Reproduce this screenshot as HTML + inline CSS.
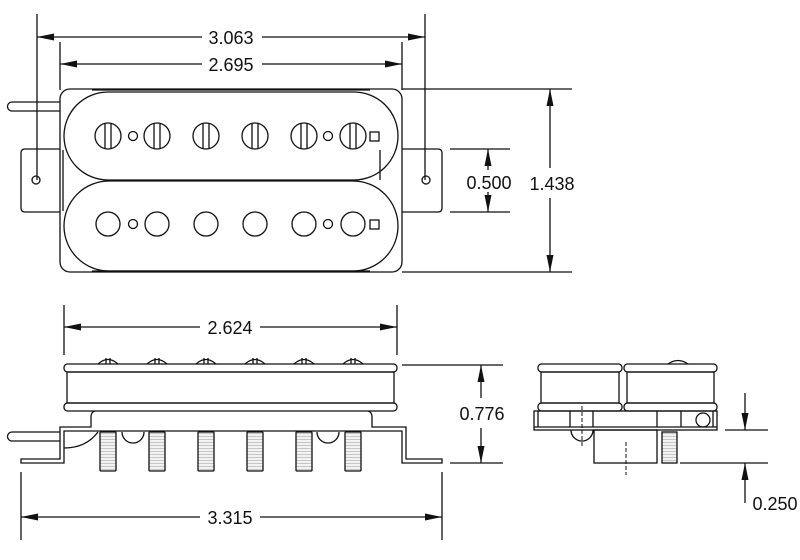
<!DOCTYPE html>
<html><head><style>
html,body{margin:0;padding:0;background:#fff;}
svg{display:block;}
text{font-family:"Liberation Sans",sans-serif;font-size:18px;fill:#111;}
</style></head><body>
<svg width="800" height="560" viewBox="0 0 800 560" xmlns="http://www.w3.org/2000/svg">
<defs>
<pattern id="h" width="4" height="3" patternUnits="userSpaceOnUse"><rect width="4" height="3" fill="#f2f2f2"/><line x1="0" y1="1.5" x2="4" y2="1.5" stroke="#bbb" stroke-width="0.8"/></pattern>
</defs>
<g fill="none" stroke="#111" stroke-width="1.3">
<!-- TOP VIEW -->
<!-- extension lines -->
<line x1="37" y1="14" x2="37" y2="180"/>
<line x1="425" y1="14" x2="425" y2="180"/>
<line x1="60" y1="42" x2="60" y2="90"/>
<line x1="402" y1="42" x2="402" y2="90"/>
<line x1="402" y1="89" x2="572" y2="89"/>
<line x1="402" y1="272" x2="572" y2="272"/>
<line x1="450" y1="149" x2="510" y2="149"/>
<line x1="450" y1="212" x2="510" y2="212"/>
<!-- dim lines -->
<line x1="37" y1="37" x2="202" y2="37"/><line x1="262" y1="37" x2="425" y2="37"/>
<line x1="60" y1="64" x2="202" y2="64"/><line x1="262" y1="64" x2="402" y2="64"/>
<line x1="550" y1="89" x2="550" y2="168"/><line x1="550" y1="198" x2="550" y2="272"/>
<line x1="488" y1="149" x2="488" y2="170"/><line x1="488" y1="192" x2="488" y2="212"/>
<!-- base plate -->
<rect x="60" y="89" width="342" height="183" rx="10"/>
<line x1="92" y1="90" x2="370" y2="90"/>
<line x1="92" y1="271" x2="370" y2="271"/>
<!-- ears -->
<path d="M60 149 H25 Q21 149 21 153 V208 Q21 212 25 212 H60"/>
<path d="M402 149 H438 Q442 149 442 153 V208 Q442 212 438 212 H402"/>
<line x1="63" y1="150" x2="63" y2="211"/>
<line x1="380" y1="150" x2="380" y2="180"/>
<circle cx="36" cy="180" r="4"/>
<circle cx="426" cy="180" r="4"/>
<!-- wire -->
<path d="M60 102 H12 A4.5 4.5 0 0 0 12 111 H60"/>
<!-- coils -->
<rect x="64" y="92" width="334" height="88" rx="44"/>
<rect x="64" y="181" width="334" height="90" rx="45"/>
<!-- top row screws -->
<g>
<circle cx="108" cy="136" r="13"/><line x1="105" y1="124" x2="105" y2="148"/><line x1="111" y1="124" x2="111" y2="148"/>
<circle cx="157" cy="136" r="13"/><line x1="154" y1="124" x2="154" y2="148"/><line x1="160" y1="124" x2="160" y2="148"/>
<circle cx="206" cy="136" r="13"/><line x1="203" y1="124" x2="203" y2="148"/><line x1="209" y1="124" x2="209" y2="148"/>
<circle cx="255" cy="136" r="13"/><line x1="252" y1="124" x2="252" y2="148"/><line x1="258" y1="124" x2="258" y2="148"/>
<circle cx="304" cy="136" r="13"/><line x1="301" y1="124" x2="301" y2="148"/><line x1="307" y1="124" x2="307" y2="148"/>
<circle cx="353" cy="136" r="13"/><line x1="350" y1="124" x2="350" y2="148"/><line x1="356" y1="124" x2="356" y2="148"/>
<circle cx="133" cy="136" r="4.5"/><circle cx="328" cy="136" r="4.5"/>
<rect x="370" y="132" width="9" height="9"/>
</g>
<g>
<circle cx="108" cy="224" r="12"/><circle cx="157" cy="224" r="12"/><circle cx="206" cy="224" r="12"/>
<circle cx="255" cy="224" r="12"/><circle cx="304" cy="224" r="12"/><circle cx="353" cy="224" r="12"/>
<circle cx="133" cy="224" r="4.5"/><circle cx="328" cy="224" r="4.5"/>
<rect x="370" y="220" width="9" height="9"/>
</g>

<!-- SIDE VIEW -->
<line x1="64" y1="305" x2="64" y2="355"/>
<line x1="397" y1="305" x2="397" y2="355"/>
<line x1="64" y1="327" x2="200" y2="327"/><line x1="260" y1="327" x2="397" y2="327"/>
<line x1="402" y1="365" x2="503" y2="365"/>
<line x1="450" y1="463" x2="503" y2="463"/>
<line x1="481" y1="365" x2="481" y2="398"/><line x1="481" y1="428" x2="481" y2="463"/>
<line x1="21" y1="472" x2="21" y2="540"/>
<line x1="442" y1="472" x2="442" y2="540"/>
<line x1="21" y1="517" x2="200" y2="517"/><line x1="260" y1="517" x2="442" y2="517"/>
<!-- screw tops -->
<g>
<path d="M98 364 Q108 355 118 364"/><line x1="106" y1="358" x2="106" y2="364"/><line x1="110" y1="358" x2="110" y2="364"/>
<path d="M147 364 Q157 355 167 364"/><line x1="155" y1="358" x2="155" y2="364"/><line x1="159" y1="358" x2="159" y2="364"/>
<path d="M196 364 Q206 355 216 364"/><line x1="204" y1="358" x2="204" y2="364"/><line x1="208" y1="358" x2="208" y2="364"/>
<path d="M245 364 Q255 355 265 364"/><line x1="253" y1="358" x2="253" y2="364"/><line x1="257" y1="358" x2="257" y2="364"/>
<path d="M294 364 Q304 355 314 364"/><line x1="302" y1="358" x2="302" y2="364"/><line x1="306" y1="358" x2="306" y2="364"/>
<path d="M343 364 Q353 355 363 364"/><line x1="351" y1="358" x2="351" y2="364"/><line x1="355" y1="358" x2="355" y2="364"/>
</g>
<!-- cover -->
<rect x="64" y="364" width="333" height="8" rx="3.5" fill="#fff"/>
<rect x="67" y="372" width="327" height="31"/>
<rect x="64" y="403" width="333" height="8" rx="3.5"/>
<!-- base plate -->
<path d="M95 411 Q91 412 91 417 V427 H60 V459 H21 V463 H64 V431 H402 V463 H442 V459 H406 V427 H372 V417 Q372 412 368 411"/>
<!-- wire -->
<path d="M60 432 H12 A4.5 4.5 0 0 0 12 441 H60"/>
<path d="M64 448 Q86 448 98 432"/>
<!-- screw heads under -->
<path d="M122 432 A11 11 0 0 0 144 432"/>
<path d="M317 432 A11 11 0 0 0 339 432"/>
<!-- poles -->
<g fill="url(#h)">
<rect x="100" y="432" width="16" height="39" rx="1"/>
<rect x="149" y="432" width="16" height="39" rx="1"/>
<rect x="198" y="432" width="16" height="39" rx="1"/>
<rect x="247" y="432" width="16" height="39" rx="1"/>
<rect x="296" y="432" width="16" height="39" rx="1"/>
<rect x="345" y="432" width="16" height="39" rx="1"/>
</g>

<!-- END VIEW -->
<path d="M668 364 Q678 357 688 364"/>
<rect x="538" y="364" width="84" height="8" rx="3.5"/>
<rect x="541" y="372" width="78" height="31"/>
<rect x="538" y="403" width="84" height="8" rx="3.5"/>
<rect x="624" y="364" width="93" height="8" rx="3.5"/>
<rect x="627" y="372" width="87" height="31"/>
<rect x="624" y="403" width="93" height="8" rx="3.5"/>
<rect x="534" y="411" width="183" height="19"/>
<line x1="534" y1="427" x2="717" y2="427"/>
<line x1="538" y1="411" x2="538" y2="427"/>
<line x1="570" y1="411" x2="570" y2="427"/>
<line x1="593" y1="411" x2="593" y2="427"/>
<line x1="657" y1="411" x2="657" y2="427"/>
<line x1="681" y1="411" x2="681" y2="427"/>
<line x1="713" y1="411" x2="713" y2="427"/>
<circle cx="703" cy="420" r="7"/>
<path d="M571 430 A11 11 0 0 0 593 430"/>
<rect x="594" y="430" width="63" height="33"/>
<rect x="662" y="432" width="15" height="31" fill="url(#h)"/>
<line x1="582" y1="406" x2="582" y2="448" stroke-dasharray="4 2" stroke-width="1"/>
<line x1="626" y1="442" x2="626" y2="475" stroke-dasharray="4 2" stroke-width="1"/>
<line x1="725" y1="430" x2="768" y2="430"/>
<line x1="680" y1="463" x2="768" y2="463"/>
<line x1="745" y1="393" x2="745" y2="430"/>
<line x1="745" y1="463" x2="745" y2="503"/>
</g>
<!-- arrowheads -->
<g fill="#111">
<polygon points="37,37 54,33.5 54,40.5"/><polygon points="425,37 408,33.5 408,40.5"/>
<polygon points="60,64 77,60.5 77,67.5"/><polygon points="402,64 385,60.5 385,67.5"/>
<polygon points="550,89 546.5,106 553.5,106"/><polygon points="550,272 546.5,255 553.5,255"/>
<polygon points="488,149 484.5,166 491.5,166"/><polygon points="488,212 484.5,195 491.5,195"/>
<polygon points="64,327 81,323.5 81,330.5"/><polygon points="397,327 380,323.5 380,330.5"/>
<polygon points="481,365 477.5,382 484.5,382"/><polygon points="481,463 477.5,446 484.5,446"/>
<polygon points="21,517 38,513.5 38,520.5"/><polygon points="442,517 425,513.5 425,520.5"/>
<polygon points="745,430 741.5,413 748.5,413"/><polygon points="745,463 741.5,480 748.5,480"/>
</g>
<g text-anchor="middle">
<text x="231" y="44">3.063</text>
<text x="231" y="71">2.695</text>
<text x="489" y="189">0.500</text>
<text x="552" y="190">1.438</text>
<text x="230" y="334">2.624</text>
<text x="482" y="420">0.776</text>
<text x="230" y="524">3.315</text>
<text x="775" y="510">0.250</text>
</g>
</svg>
</body></html>
